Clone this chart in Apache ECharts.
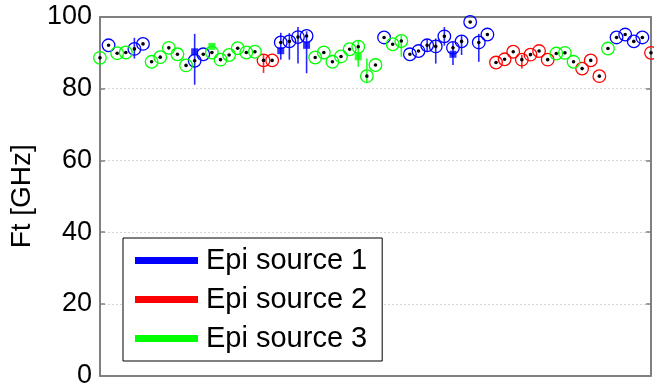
<!DOCTYPE html>
<html>
<head>
<meta charset="utf-8">
<script src="https://cdn.jsdelivr.net/npm/echarts@6/dist/echarts.min.js"></script>
<style>
  html, body { margin: 0; padding: 0; background: #fff; }
  #chart { width: 654px; height: 389px; }
</style>
</head>
<body>
<div id="chart"></div>
<script>
// Ft per measured device, in wafer order (1 = Epi source 1, 2 = source 2, 3 = source 3)
const sourceNames = ['Epi source 1', 'Epi source 2', 'Epi source 3'];
const sourceColors = ['#0000ff', '#ff0000', '#00ff00'];

const source = [
  3, 1, 3, 3, 1, 1, 3, 3, 3, 3, 3, 1, 1, 3, 3, 3, 3, 3, 3, 2,
  2, 1, 1, 1, 1, 3, 3, 3, 3, 3, 3, 3, 3, 1, 3, 3, 1, 1, 1, 1,
  1, 1, 1, 1, 1, 1, 2, 2, 2, 2, 2, 2, 2, 3, 3, 3, 2, 2, 2, 3,
  1, 1, 1, 1, 2
];
const ft = [
  88.6, 92.1, 89.9, 90.1, 91.1, 92.5, 87.5, 88.8, 91.4, 89.6,
  86.5, 87.8, 89.6, 90.1, 88.1, 89.4, 91.3, 90.1, 90.3, 87.9,
  87.9, 92.9, 93.2, 94.4, 94.7, 88.7, 90.1, 87.5, 89.0, 91.0,
  91.7, 83.5, 86.6, 94.3, 92.4, 93.3, 89.6, 90.5, 92.1, 91.8,
  94.6, 91.4, 93.2, 98.6, 92.9, 95.1, 87.3, 88.2, 90.3, 88.1,
  89.5, 90.5, 88.1, 89.8, 90.0, 87.5, 85.6, 87.9, 83.5, 91.2,
  94.3, 95.1, 93.2, 94.3, 90.0
];
// spread of each measurement (null where it stays inside the marker)
const ftLow = [
  null, null, null, null, 88.4, null, null, null, null, null,
  null, 81.1, null, null, null, null, null, null, null, 84.4,
  null, 88.1, 88.1, 87.0, 84.3, null, null, null, null, null,
  86.1, 81.5, null, null, null, 88.9, null, null, 90.5, 87.0,
  92.0, 86.6, 89.4, null, 87.5, null, null, null, null, 85.6,
  null, null, null, null, null, null, null, null, null, null,
  null, null, null, null, null
];
const ftHigh = [
  null, null, null, null, 94.2, null, null, null, null, null,
  null, 95.3, null, null, null, null, null, null, null, 89.5,
  null, 95.6, 95.5, 97.2, 96.0, null, null, null, null, null,
  93.5, 88.4, null, null, null, 94.8, null, null, 93.8, 94.0,
  97.2, 93.0, 95.0, null, 95.3, null, null, null, null, 89.5,
  null, null, null, null, null, null, null, null, null, null,
  null, null, null, null, null
];

// wafer averages (filled squares)
const meanPos = [12, 14, 22, 25, 31, 42];
const meanFt = [90.3, 91.8, 90.6, 92.1, 88.9, 89.6];
const meanSource = [1, 3, 1, 1, 3, 1];

const yTicks = { min: 0, max: 100, step: 20 };

function pointsFor(s) {
  const out = [];
  ft.forEach((v, i) => {
    if (source[i] === s) {
      out.push([i + 1, v,
        ftLow[i] === null ? '-' : ftLow[i],
        ftHigh[i] === null ? '-' : ftHigh[i]]);
    }
  });
  return out;
}

// one measurement: spread bar, open circle and a black centre dot
function renderPoint(color) {
  return function (params, api) {
    const x = api.value(0), y = api.value(1);
    const c = api.coord([x, y]);
    const children = [];
    const lo = api.value(2), hi = api.value(3);
    if (!isNaN(lo) && !isNaN(hi)) {
      const p1 = api.coord([x, lo]), p2 = api.coord([x, hi]);
      children.push({
        type: 'line',
        shape: { x1: p1[0], y1: p1[1], x2: p2[0], y2: p2[1] },
        style: { stroke: color, lineWidth: 1.6, opacity: 0.85 }
      });
    }
    children.push({
      type: 'circle',
      shape: { cx: c[0], cy: c[1], r: 6.3 },
      style: { fill: 'none', stroke: color, lineWidth: 1.3 }
    });
    children.push({
      type: 'circle',
      shape: { cx: c[0], cy: c[1], r: 1.8 },
      style: { fill: '#000' }
    });
    return { type: 'group', children: children };
  };
}

const series = sourceNames.map((name, k) => ({
  name: name,
  type: 'custom',
  itemStyle: { color: sourceColors[k] },
  encode: { x: 0, y: 1 },
  data: pointsFor(k + 1),
  renderItem: renderPoint(sourceColors[k]),
  clip: false,
  silent: true,
  z: 3
}));

series.push({
  type: 'scatter',
  symbol: 'rect',
  symbolSize: 7,
  silent: true,
  z: 2,
  data: meanPos.map((p, i) => ({
    value: [p, meanFt[i]],
    itemStyle: { color: sourceColors[meanSource[i] - 1] }
  }))
});

const chart = echarts.init(document.getElementById('chart'), null, { renderer: 'canvas' });
const font = 'Liberation Sans, Arial, Helvetica, sans-serif';

const boxLine = { show: true, onZero: false, lineStyle: { color: '#808080', width: 2 } };

chart.setOption({
  animation: false,
  backgroundColor: '#fff',
  grid: { left: 94, right: 3, top: 17, bottom: 12, show: false },
  xAxis: [
    {
      type: 'value', min: 1, max: 65, position: 'bottom',
      axisLine: boxLine,
      axisTick: { show: false }, axisLabel: { show: false }, splitLine: { show: false }
    },
    {
      type: 'value', min: 1, max: 65, position: 'top',
      axisLine: boxLine,
      axisTick: { show: false }, axisLabel: { show: false }, splitLine: { show: false }
    }
  ],
  yAxis: [
    {
      type: 'value', min: yTicks.min, max: yTicks.max, interval: yTicks.step, position: 'left',
      name: 'Ft [GHz]', nameLocation: 'middle', nameGap: 55,
      nameTextStyle: { fontSize: 28, color: '#000', fontFamily: font },
      axisLine: boxLine,
      axisTick: { show: true, inside: true, length: 5, lineStyle: { color: '#808080', width: 1.5 } },
      axisLabel: { fontSize: 27, color: '#000', margin: 8, fontFamily: font },
      splitLine: { show: true, lineStyle: { color: '#d4d4d4', type: [2, 2], width: 1 } }
    },
    {
      type: 'value', min: yTicks.min, max: yTicks.max, interval: yTicks.step, position: 'right',
      axisLine: boxLine,
      axisTick: { show: true, inside: true, length: 5, lineStyle: { color: '#808080', width: 1.5 } },
      axisLabel: { show: false }, splitLine: { show: false }
    }
  ],
  legend: {
    data: sourceNames,
    orient: 'vertical',
    left: 123, top: 238,
    icon: 'rect',
    itemWidth: 63, itemHeight: 7,
    itemGap: 10,
    padding: [8, 15, 8, 12],
    backgroundColor: '#fff',
    borderColor: '#000', borderWidth: 1,
    selectedMode: false,
    textStyle: { fontSize: 29, color: '#000', fontFamily: font, padding: [0, 0, 0, 3] }
  },
  series: series
});
</script>
</body>
</html>
